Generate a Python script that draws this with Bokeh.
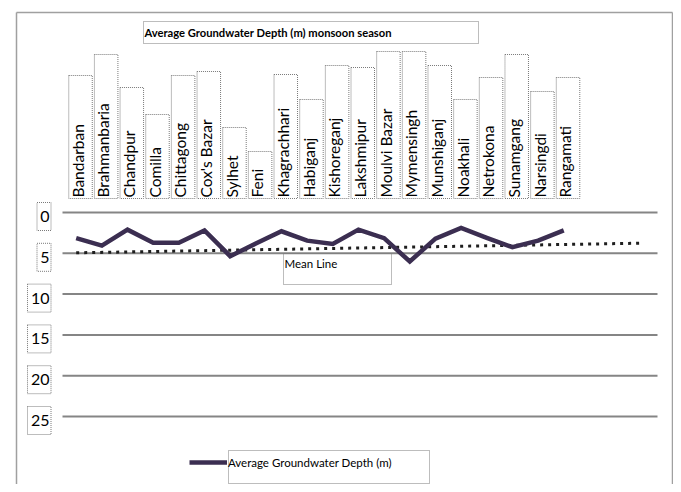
import numpy as np
from bokeh.plotting import figure
from bokeh.models import Range1d, Legend, LegendItem
from bokeh.core.properties import value
from bokeh.embed import file_html
from bokeh.resources import INLINE

# ---------------- data ----------------
districts = ["Bandarban", "Brahmanbaria", "Chandpur", "Comilla", "Chittagong",
             "Cox's Bazar", "Sylhet", "Feni", "Khagrachhari", "Habiganj",
             "Kishoreganj", "Lakshmipur", "Moulvi Bazar", "Mymensingh",
             "Munshiganj", "Noakhali", "Netrokona", "Sunamgang", "Narsingdi",
             "Rangamati"]
depth = [3.15, 4.05, 2.1, 3.7, 3.7, 2.2, 5.35, 3.8, 2.3, 3.45,
         3.85, 2.1, 3.15, 6.0, 3.2, 1.9, 3.1, 4.25, 3.45, 2.2]
mean_x = [1, 23]
mean_y = [4.94, 3.76]
y_ticks = [0, 5, 10, 15, 20, 25]
title_text = "Average Groundwater Depth (m) monsoon season"
series_name = "Average Groundwater Depth (m)"
mean_name = "Mean Line"

# ---------------- layout (pixels) ----------------
W, H = 673, 484
OX, OY = 0, 0
X0, DX = 75.7, 25.66
Y0, DY = 212.0, 8.16
box_tops = [75, 54, 87, 114, 75, 71, 127, 151, 74, 99,
            65, 67, 51, 51, 65, 99, 77, 54, 91, 77]


def X(px):
    return 1 + (px - X0) / DX


def Y(py):
    return (py - Y0) / DY


FONT_NAME = "Lato"
FONT = value(FONT_NAME)
DOT = "#7a7a7a"

p = figure(width=W, height=H,
           x_range=Range1d(X(OX), X(OX + W)),
           y_range=Range1d(Y(OY + H), Y(OY)),
           x_axis_location=None, y_axis_location=None,
           output_backend="svg", toolbar_location=None, min_border=0)
p.grid.visible = False
p.outline_line_color = None
p.background_fill_color = "white"
p.border_fill_color = "white"

idx = np.arange(1, len(districts) + 1)

# outer frame (left, top, right)
p.segment(x0=[X(16), X(16), X(672)], y0=[Y(12), Y(12), Y(12)],
          x1=[X(16), X(672), X(672)], y1=[Y(495), Y(12), Y(495)],
          line_color="#a0a0a0", line_width=1.5)

# title
p.quad(left=X(143), right=X(478), top=Y(21), bottom=Y(43),
       fill_color=None, line_color=DOT, line_dash="1 1", line_width=1)
p.text(x=[X(144)], y=[Y(32)], text=[title_text], text_align="left",
       text_baseline="middle", text_font=FONT, text_font_style="bold",
       text_font_size="11.2px", text_color="black")

# category label boxes
p.quad(left=idx + (4.3 - 11.75) / DX, right=idx + (4.3 + 11.75) / DX,
       top=[Y(t) for t in box_tops], bottom=Y(198),
       fill_color=None, line_color=DOT, line_dash="1 1", line_width=1)
p.text(x=idx, y=Y(197), text=districts, angle=np.pi / 2,
       text_align="left", text_baseline="middle", x_offset=1.5,
       text_font=FONT, text_font_size="15.5px", text_color="black")

# gridlines
p.segment(x0=X(62), x1=X(657), y0=y_ticks, y1=y_ticks,
          line_color="#858585", line_width=2)

# y labels
labels = [str(t) for t in y_ticks]
p.quad(left=[X(50 - (4 + 9.5 * len(s))) for s in labels], right=X(50.5),
       top=[t - 10 / DY for t in y_ticks], bottom=[t + 18 / DY for t in y_ticks],
       fill_color=None, line_color=DOT, line_dash="1 1", line_width=1)
p.text(x=X(49), y=[t + 4 / DY for t in y_ticks], text=labels,
       text_align="right", text_baseline="middle",
       text_font=FONT, text_font_size="16px", text_color="black")

# mean line
p.line(mean_x, mean_y, line_color="#1e1e1e", line_width=3, line_dash="3 5")
p.quad(left=X(283), right=X(391), top=Y(253), bottom=Y(284),
       fill_color=None, line_color=DOT, line_dash="1 1", line_width=1)
p.text(x=[X(284)], y=[Y(256)], text=[mean_name], text_align="left",
       text_baseline="top", text_font=FONT, text_font_size="11.5px",
       text_color="black")

# data line
r = p.line(idx, depth, line_color="#3b2e51", line_width=4.5, line_join="miter")

# legend
p.quad(left=X(228), right=X(429), top=Y(450), bottom=Y(483),
       fill_color=None, line_color=DOT, line_dash="1 1", line_width=1)
legend = Legend(items=[LegendItem(label=series_name, renderers=[r])],
                location=(189, 12), padding=0, margin=0, spacing=0,
                glyph_width=38, glyph_height=20, label_height=20,
                label_standoff=1, border_line_color=None,
                background_fill_alpha=0,
                label_text_font=FONT_NAME, label_text_font_size="11.5px",
                label_text_color="black")
p.add_layout(legend)

open("out.html", "w").write(file_html(p, INLINE))
